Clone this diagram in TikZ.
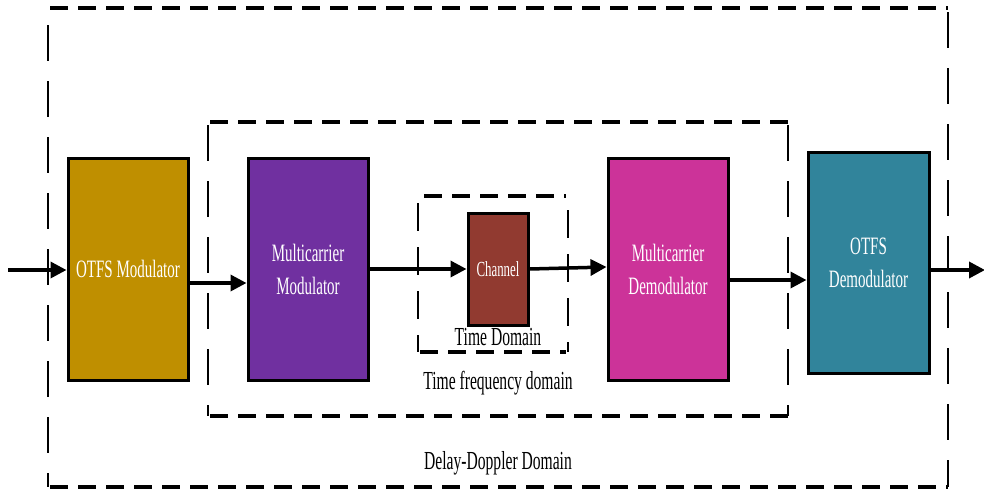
\documentclass[tikz,border=0pt]{standalone}
\usepackage{fontspec}
\setmainfont{Liberation Serif}[FakeStretch=0.6]
\usetikzlibrary{arrows.meta}
\definecolor{cotfsmod}{HTML}{BF8F00}
\definecolor{cmcmod}{HTML}{7030A0}
\definecolor{cchan}{HTML}{913A30}
\definecolor{cmcdemod}{HTML}{CC3399}
\definecolor{cotfsdemod}{HTML}{31849B}
\tikzset{
  blk/.style={draw=black, line width=3pt, minimum width=120pt, minimum height=222pt,
    inner sep=0pt, text=white, align=center, font=\fontsize{25}{33}\selectfont},
  hdash/.style={line width=3.5pt, dash pattern=on 18pt off 10pt},
  vdash/.style={line width=2.2pt, dash pattern=on 36pt off 20pt},
  vdashs/.style={line width=2.2pt, dash pattern=on 28pt off 16pt},
  lbl/.style={font=\fontsize{26}{28}\selectfont, inner sep=0pt},
  arr/.style={line width=3.5pt, -{Triangle[length=16pt,width=16pt]}}
}
\begin{document}
\begin{tikzpicture}[x=1pt,y=-1pt]
\useasboundingbox (0,0) rectangle (984,490);
% outer delay-doppler domain
\draw[hdash] (50,8) -- (948,8);
\draw[hdash] (50,487) -- (948,487);
\draw[vdash] (48,25) -- (48,487);
\draw[vdash] (948,12) -- (948,487);
% time frequency
\draw[hdash] (210,122) -- (788,122);
\draw[hdash] (210,416) -- (788,416);
\draw[vdash] (208,125) -- (208,416);
\draw[vdash] (788,125) -- (788,416);
% time domain
\draw[hdash] (424,196) -- (566,196);
\draw[hdash] (420,352) -- (566,352);
\draw[vdashs] (418,203) -- (418,352);
\draw[vdashs] (568,210) -- (568,352);
% blocks
\node[blk, fill=cotfsmod] (om) at (128,269) {OTFS Modulator};
\node[blk, fill=cmcmod] (mm) at (308,269) {Multicarrier\\Modulator};
\node[blk, fill=cchan, minimum width=60pt, minimum height=112pt,
  font=\fontsize{21.5}{24}\selectfont] (ch) at (498,269) {Channel};
\node[blk, fill=cmcdemod] (md) at (668,269) {Multicarrier\\Demodulator};
\node[blk, fill=cotfsdemod, minimum width=121pt, minimum height=221pt] (od) at (868.5,262.5) {OTFS\\Demodulator};
% labels
\node[lbl] (ltd) at (498,337) {Time Domain};
\node[lbl] (ltf) at (498,383) {Time frequency domain};
\node[lbl] (ldd) at (498,463) {Delay-Doppler Domain};
% connectors
\coordinate (in) at (8,270);
\coordinate (out) at (984,270);
\draw[arr] (in) -- (om.west |- in);
\draw[arr] (om.east |- 0,283) -- (mm.west |- 0,283);
\draw[arr] (mm.east) -- (ch.west);
\draw[arr] (ch.east) -- (md.west |- 0,267);
\draw[arr] (md.east |- 0,280) -- (od.west |- 0,280);
\draw[arr, shorten >=-1pt] (od.east |- out) -- (out);
\end{tikzpicture}
\end{document}
